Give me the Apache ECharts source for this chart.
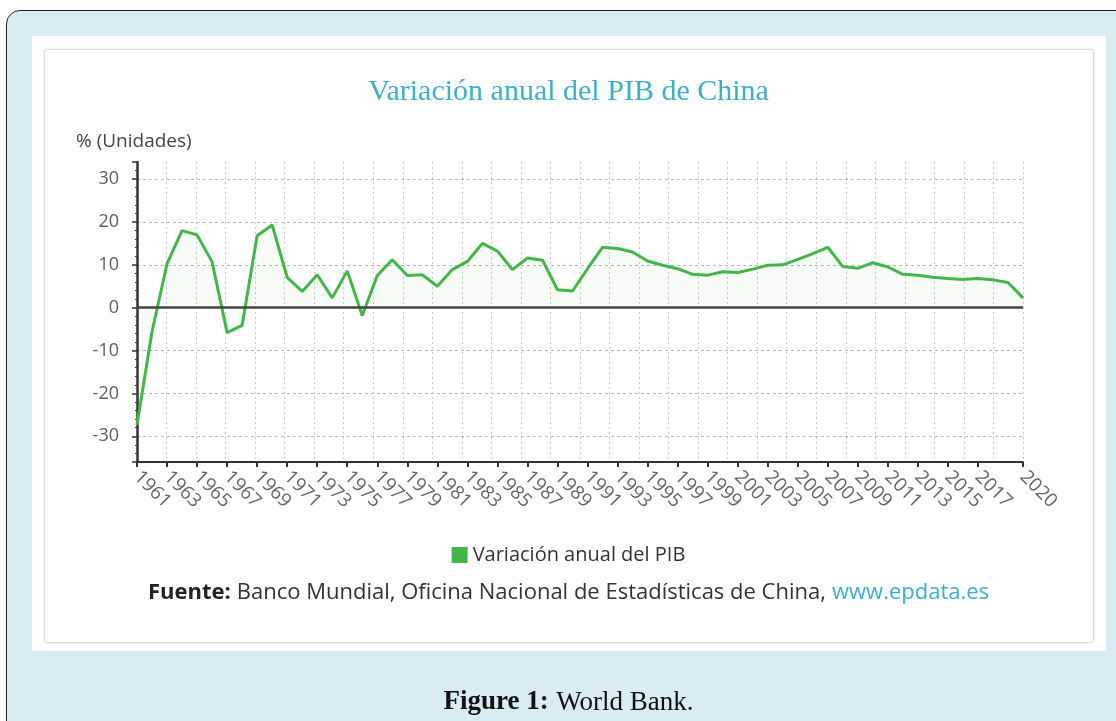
<!DOCTYPE html>
<html><head><meta charset="utf-8">
<script src="https://cdn.jsdelivr.net/npm/echarts@6/dist/echarts.min.js"></script>
<style>
html,body{margin:0;padding:0;width:1116px;height:721px;overflow:hidden;background:#fff;}
#frame{position:absolute;left:6px;top:10px;width:1150px;height:760px;background:#d8ecf1;border:1px solid #222;border-radius:14px;}
#panel{position:absolute;left:32px;top:36px;width:1074px;height:615px;background:#fff;}
#box{position:absolute;left:44px;top:49px;width:1048px;height:592px;border:1px solid #dcdcdc;border-radius:4px;box-shadow:0 0 3px rgba(0,0,0,0.12);background:#fff;}
#chart{position:absolute;left:0;top:0;width:1137px;height:721px;}
</style></head>
<body>
<div id="frame"></div><div id="panel"></div><div id="box"></div>
<div id="chart"></div>
<script>
const years = ['1961','1962','1963','1964','1965','1966','1967','1968','1969','1970',
  '1971','1972','1973','1974','1975','1976','1977','1978','1979','1980',
  '1981','1982','1983','1984','1985','1986','1987','1988','1989','1990',
  '1991','1992','1993','1994','1995','1996','1997','1998','1999','2000',
  '2001','2002','2003','2004','2005','2006','2007','2008','2009','2010',
  '2011','2012','2013','2014','2015','2016','2017','2018','2019','2020'];
const gdpGrowth = [-27.3,-5.6,10.3,18.0,17.0,10.7,-5.8,-4.1,16.8,19.3,
  7.1,3.8,7.7,2.3,8.6,-1.8,7.5,11.2,7.5,7.7,
  5.0,8.9,10.8,15.0,13.2,8.9,11.6,11.1,4.2,3.9,
  9.1,14.1,13.8,13.0,10.9,9.9,9.1,7.8,7.6,8.4,
  8.2,9.0,9.9,10.0,11.3,12.6,14.1,9.6,9.2,10.5,
  9.5,7.8,7.6,7.1,6.8,6.6,6.8,6.5,5.9,2.3];
const shownYears = ['1961','1963','1965','1967','1969','1971','1973','1975','1977','1979',
  '1981','1983','1985','1987','1989','1991','1993','1995','1997','1999',
  '2001','2003','2005','2007','2009','2011','2013','2015','2017','2020'];
const yTicks = [-30,-20,-10,0,10,20,30];
const seriesName = 'Variación anual del PIB';
const chartTitle = 'Variación anual del PIB de China';
const unitLabel = '% (Unidades)';

const showYear = (i, v) => shownYears.indexOf(v) >= 0;
const chart = echarts.init(document.getElementById('chart'), null, {renderer:'canvas'});
chart.setOption({
  backgroundColor: 'transparent',
  animation: false,
  title: [
    {text: chartTitle, left: 'center', top: 72,
     textStyle: {fontFamily: 'Liberation Serif', fontSize: 30, fontWeight: 'normal', color: '#3cb0c9'}},
    {text: unitLabel, left: 71, top: 127,
     textStyle: {fontFamily: 'Open Sans', fontSize: 19, fontWeight: 'normal', color: '#444'}},
    {text: '{b|Fuente:} {n|Banco Mundial, Oficina Nacional de Estadísticas de China,} {u|www.epdata.es}',
     left: 'center', top: 577,
     textStyle: {fontWeight: 'normal', fontSize: 22, rich: {
       b: {fontFamily: 'Open Sans', fontSize: 22, fontWeight: 'bold', color: '#222'},
       n: {fontFamily: 'Open Sans', fontSize: 22, fontWeight: 'normal', color: '#333'},
       u: {fontFamily: 'Open Sans', fontSize: 22, fontWeight: 'normal', color: '#3bafd0'}}}},
    {text: '{b|Figure 1:} {n|World Bank.}', left: 'center', top: 684,
     textStyle: {fontWeight: 'normal', fontSize: 27, rich: {
       b: {fontFamily: 'Liberation Serif', fontSize: 27, fontWeight: 'bold', color: '#111'},
       n: {fontFamily: 'Liberation Serif', fontSize: 27, fontWeight: 'normal', color: '#111'}}}}
  ],
  legend: {
    data: [seriesName], left: 'center', top: 540, icon: 'rect', itemWidth: 16, itemHeight: 16, itemGap: 8,
    textStyle: {fontFamily: 'Open Sans', fontSize: 20, color: '#333'}
  },
  grid: {left: 137, right: 114, top: 162, bottom: 259, containLabel: false, outerBoundsMode: 'none'},
  xAxis: [
    {type: 'category', data: years, boundaryGap: false, position: 'bottom',
     axisLine: {onZero: false, lineStyle: {color: '#333', width: 2}},
     axisTick: {show: true, interval: showYear, length: 5, lineStyle: {color: '#333', width: 2}},
     axisLabel: {interval: showYear, rotate: -45, margin: 12, fontFamily: 'Open Sans', fontSize: 19, color: '#666'},
     splitLine: {show: false}},
    {type: 'value', min: 0, max: 30, interval: 1, position: 'top',
     axisLine: {show: false}, axisTick: {show: false}, axisLabel: {show: false},
     splitLine: {show: true, showMinLine: false, lineStyle: {color: '#c8c8c8', type: [2, 3], width: 1}}}
  ],
  yAxis: {
    type: 'value', min: -36, max: 34, splitNumber: 7,
    axisLine: {show: true, lineStyle: {color: '#333', width: 2.5}},
    axisTick: {show: true, length: 5, lineStyle: {color: '#333', width: 1.5}},
    minorTick: {show: true, splitNumber: 5, length: 2, lineStyle: {color: '#333'}},
    axisLabel: {showMinLabel: false, showMaxLabel: false, margin: 18,
      formatter: v => yTicks.indexOf(v) >= 0 ? String(v) : '',
      fontFamily: 'Open Sans', fontSize: 18, color: '#5a5f66'},
    splitLine: {show: true, showMinLine: false, showMaxLine: false, lineStyle: {color: '#bbb', type: [3, 3], width: 1}}
  },
  series: [{
    name: seriesName, type: 'line', xAxisIndex: 0, data: gdpGrowth,
    symbol: 'none', smooth: false,
    lineStyle: {color: '#43b649', width: 3},
    itemStyle: {color: '#43b649'},
    areaStyle: {color: 'rgba(67,182,73,0.06)', origin: 'auto'},
    markLine: {silent: true, symbol: 'none', label: {show: false},
      lineStyle: {color: '#444', width: 2.5, type: 'solid'}, data: [{yAxis: 0}]},
    z: 3
  }]
});
</script>
</body></html>
